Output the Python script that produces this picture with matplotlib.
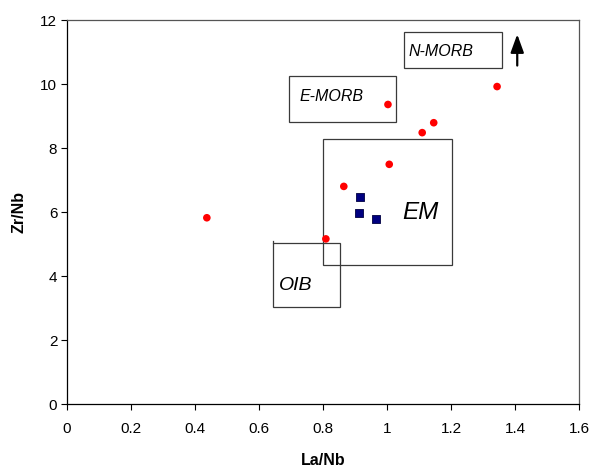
import matplotlib
matplotlib.use("Agg")
import matplotlib.pyplot as plt
from matplotlib.patches import Rectangle

plt.rcParams["font.family"] = ["Liberation Sans", "DejaVu Sans"]

# La/Nb vs Zr/Nb
red_x = [0.437, 0.809, 0.865, 1.007, 1.003, 1.110, 1.146, 1.344]
red_y = [5.82, 5.16, 6.80, 7.49, 9.36, 8.48, 8.79, 9.92]

blue_x = [0.915, 0.914, 0.966]
blue_y = [6.46, 5.96, 5.77]

x_ticks = [0, 0.2, 0.4, 0.6, 0.8, 1, 1.2, 1.4, 1.6]
x_tick_labels = ["0", "0.2", "0.4", "0.6", "0.8", "1", "1.2", "1.4", "1.6"]
y_ticks = [0, 2, 4, 6, 8, 10, 12]

fig = plt.figure(figsize=(5.91, 4.68), dpi=100)
ax = fig.add_axes([67 / 591, 64 / 468, 512 / 591, 384 / 468])

ax.set_xlim(0, 1.6)
ax.set_ylim(0, 12)

# field boxes (x0, y0, w, h)
boxes = {
    "EM": (0.799, 4.33, 0.404, 3.96),
    "E-MORB": (0.693, 8.81, 0.336, 1.44),
    "N-MORB": (1.053, 10.51, 0.305, 1.12),
    "OIB": (0.643, 3.04, 0.211, 2.00),
}
for name, (x0, y0, w, h) in boxes.items():
    ax.add_patch(Rectangle((x0, y0), w, h, fill=False, edgecolor="#3a3a3a",
                           linewidth=0.9, zorder=2))
# little stub on the OIB box corner
ax.plot([0.643, 0.643], [5.04, 5.10], color="#3a3a3a", linewidth=0.9, zorder=2)

ax.text(1.106, 6.0, "EM", fontsize=17.5, style="italic", ha="center", va="center")
ax.text(0.716, 3.70, "OIB", fontsize=14, style="italic", ha="center", va="center")
ax.text(0.726, 9.6, "E-MORB", fontsize=11.5, style="italic", ha="left", va="center")
ax.text(1.066, 11.02, "N-MORB", fontsize=11.5, style="italic", ha="left", va="center")

ax.annotate("", xy=(1.407, 11.64), xytext=(1.407, 10.49),
            arrowprops=dict(arrowstyle="-|>,head_width=0.4,head_length=1.1",
                            color="black", linewidth=1.6))

ax.scatter(red_x, red_y, s=30, marker="o", color="#ff0000", edgecolors="none", zorder=3)
ax.scatter(blue_x, blue_y, s=36, marker="s", color="#000080",
           edgecolors="#000040", linewidths=0.6, zorder=3)

ax.set_xticks(x_ticks)
ax.set_xticklabels(x_tick_labels)
ax.set_yticks(y_ticks)
ax.tick_params(direction="out", length=4, width=0.8, labelsize=11, color="black")
ax.tick_params(axis="x", pad=9)
ax.tick_params(axis="y", pad=3)

for side in ("left", "bottom"):
    ax.spines[side].set_color("black")
    ax.spines[side].set_linewidth(0.9)
for side in ("top", "right"):
    ax.spines[side].set_color("#555555")
    ax.spines[side].set_linewidth(0.9)

ax.set_xlabel("La/Nb", fontsize=11.5, fontweight="bold", labelpad=12)
ax.set_ylabel("Zr/Nb", fontsize=11.5, fontweight="bold", labelpad=10)

fig.savefig("out.png", dpi=100)
